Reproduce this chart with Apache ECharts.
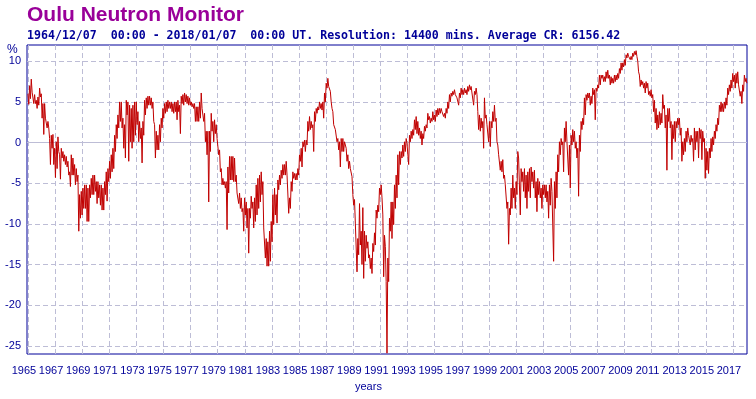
<!DOCTYPE html>
<html>
<head>
<meta charset="utf-8">
<title>Oulu Neutron Monitor</title>
<script src="https://cdn.jsdelivr.net/npm/echarts@6/dist/echarts.min.js"></script>
<style>
  html, body { margin: 0; padding: 0; background: #fff; }
  #chart { width: 756px; height: 399px; }
</style>
</head>
<body>
<div id="chart"></div>
<script>
// relative count rate (%), read off the plot as the highest and lowest
// value inside bins of about 45 days, starting at 1965.0
const startYear = 1965.0;
const stepYears = 0.1229;
const crHigh = [
  6.0, 7.0, 7.8, 6.3, 5.9, 5.2, 5.6, 6.7, 6.0, 4.8,
  4.8, 3.0, 2.6, 0.5, 0.9, 1.0, -0.7, 0.1, 0.7, -1.5,
  -0.7, -1.1, -1.5, -1.7, -2.3, -3.6, -1.5, -1.9, -2.7, -3.2,
  -4.0, -6.4, -6.0, -5.6, -5.2, -5.2, -5.6, -5.2, -4.4, -4.0,
  -4.0, -4.8, -4.8, -5.2, -5.2, -5.6, -4.8, -3.6, -3.2, -2.3,
  -1.5, -0.7, 0.9, 2.2, 3.4, 5.0, 5.0, 3.0, 2.2, 5.2,
  5.0, 4.6, 4.2, 4.6, 5.0, 5.0, 3.8, 2.6, 1.8, 2.6,
  5.2, 5.5, 5.7, 5.7, 5.5, 5.0, 2.2, 1.4, 0.9, 2.2,
  3.0, 4.2, 4.8, 5.0, 5.2, 5.0, 5.0, 4.8, 5.0, 5.0,
  5.2, 4.6, 5.7, 5.9, 6.1, 5.9, 5.7, 5.5, 5.0, 4.8,
  4.8, 4.4, 4.4, 5.0, 6.1, 4.2, 3.6, 1.4, 1.4, 1.4,
  3.6, 2.6, 2.8, 2.2, 0.5, -0.9, -3.2, -4.4, -4.8, -4.8,
  -3.0, -1.7, -1.7, -1.7, -1.9, -4.0, -6.2, -6.2, -6.8, -8.1,
  -6.8, -7.3, -8.1, -8.1, -6.6, -7.3, -6.8, -5.2, -4.4, -4.0,
  -3.6, -4.8, -10.5, -11.8, -12.2, -10.9, -9.7, -6.4, -5.6, -6.4,
  -4.6, -4.0, -3.4, -2.7, -2.7, -2.3, -4.0, -6.8, -4.8, -3.6,
  -3.8, -3.8, -3.2, -1.5, -0.7, 0.1, 0.3, 0.3, 2.6, 3.2,
  2.6, 2.2, 3.8, 4.2, 4.4, 5.0, 4.8, 5.0, 6.1, 7.3,
  7.9, 7.1, 5.0, 3.8, 2.4, 1.6, 0.5, 0.1, 0.5, 0.5,
  0.1, -0.7, -1.5, -2.3, -3.2, -6.4, -7.0, -9.9, -11.8, -7.5,
  -10.9, -8.0, -10.9, -11.4, -12.2, -13.8, -14.2, -12.4, -11.1, -8.3,
  -7.7, -5.6, -5.2, -8.9, -11.4, -17.1, -14.2, -9.3, -7.3, -7.3,
  -5.2, -4.0, -1.5, -1.1, -1.1, -0.3, 0.1, 0.5, -0.3, 0.9,
  1.4, 1.6, 2.8, 3.2, 2.6, 1.8, 1.4, 1.1, 2.0, 2.2,
  3.6, 3.2, 3.0, 3.8, 3.4, 4.0, 4.2, 4.2, 4.2, 3.8,
  3.6, 4.2, 5.0, 5.9, 6.1, 6.3, 6.5, 6.1, 5.5, 6.1,
  6.7, 6.5, 6.7, 6.5, 6.9, 7.1, 6.9, 5.9, 6.3, 6.7,
  3.8, 3.4, 3.0, 2.6, 5.5, 3.4, 2.2, 2.6, 2.6, 3.8,
  4.6, 3.0, -0.3, -1.7, -2.3, -2.1, -4.0, -5.2, -7.3, -8.1,
  -5.6, -4.0, -5.6, -4.8, -1.1, -1.9, -3.2, -3.6, -3.2, -4.0,
  -3.6, -3.2, -3.0, -3.6, -3.4, -4.8, -4.4, -4.8, -5.6, -5.2,
  -5.2, -5.2, -6.0, -5.2, -4.4, -6.0, -4.8, -3.6, -1.5, 0.1,
  0.5, 0.1, 1.8, 2.6, 0.1, -0.3, 0.9, 1.6, 1.4, 0.1,
  -0.7, 0.9, 2.6, 3.0, 5.5, 5.9, 6.1, 6.1, 5.7, 6.7,
  6.5, 6.7, 7.1, 8.3, 8.3, 8.3, 8.1, 8.7, 8.9, 8.3,
  8.1, 7.9, 8.3, 8.3, 8.5, 9.1, 9.8, 9.8, 10.2, 10.8,
  11.0, 10.8, 10.6, 11.0, 11.2, 11.3, 10.0, 8.3, 7.7, 7.5,
  7.3, 7.5, 7.3, 6.3, 6.5, 5.9, 5.2, 4.2, 3.4, 3.8,
  3.6, 5.9, 4.6, 3.4, 4.2, 4.2, 2.6, 2.2, 2.6, 2.6,
  3.0, 3.0, 1.8, 0.1, 0.5, 1.4, 1.8, 0.9, 0.9, 0.5,
  1.8, 1.4, 1.4, 1.8, 1.6, 1.4, 0.5, -0.7, -1.1, -0.7,
  0.5, 0.7, 1.4, 2.2, 3.0, 4.6, 5.0, 4.8, 5.0, 5.5,
  6.7, 7.1, 7.7, 8.5, 8.3, 8.5, 8.7, 7.1, 6.3, 7.1, 8.3, 7.9
];
const crLow = [
  4.7, 5.4, 6.2, 4.8, 4.8, 4.2, 4.6, 5.6, 3.0, 1.0,
  3.0, 1.8, 1.8, -2.7, -0.7, -2.7, -4.3, -3.2, -1.1, -4.5,
  -1.9, -2.3, -2.7, -3.0, -4.0, -5.4, -4.0, -4.0, -5.2, -4.8,
  -10.9, -9.3, -8.9, -8.1, -8.1, -9.7, -9.7, -6.8, -6.4, -6.4,
  -6.0, -7.5, -6.8, -7.7, -8.3, -8.3, -6.4, -7.2, -4.8, -4.4,
  -3.6, -3.2, -1.1, 0.5, 1.8, 2.6, 1.8, -0.7, -1.9, 3.4,
  -2.3, 0.1, -0.7, 0.1, 0.9, 2.2, 0.1, 0.5, -2.5, 0.9,
  3.4, 4.2, 4.6, 4.6, 4.2, 2.6, -1.9, -0.9, -0.9, 0.1,
  1.8, 3.0, 3.6, 3.8, 4.2, 4.2, 3.8, 3.6, 3.8, 2.8,
  3.8, 1.1, 4.8, 4.6, 5.0, 4.8, 4.6, 4.6, 4.4, 4.2,
  2.6, 2.6, 2.6, 3.0, 4.2, 2.6, 0.1, -1.5, -7.3, -1.1,
  1.4, 0.1, 1.1, 0.5, -1.5, -3.6, -5.2, -5.2, -5.6, -10.7,
  -6.2, -4.6, -4.6, -4.8, -4.8, -6.2, -7.5, -8.1, -8.5, -10.9,
  -8.9, -10.5, -13.6, -9.3, -8.1, -10.5, -9.7, -8.9, -8.1, -7.3,
  -6.4, -10.5, -14.2, -15.2, -15.2, -14.6, -12.2, -10.1, -8.9, -9.9,
  -5.8, -5.2, -4.4, -4.0, -4.0, -4.0, -8.7, -8.1, -6.0, -4.4,
  -4.6, -4.6, -4.0, -2.3, -3.0, -0.5, -1.1, -0.3, 1.4, 1.6,
  1.8, -1.1, 2.6, 3.6, 4.0, 4.2, 4.0, 3.0, 5.0, 6.7,
  6.9, 6.3, 4.2, 2.2, 1.6, 0.1, -0.9, -3.0, -1.1, -1.1,
  -0.3, -2.3, -3.2, -3.2, -4.2, -7.7, -9.9, -15.9, -13.8, -12.6,
  -15.0, -16.7, -14.6, -13.0, -14.2, -15.5, -16.1, -13.4, -12.6, -9.3,
  -8.5, -6.4, -6.8, -16.5, -12.8, -25.9, -17.1, -10.9, -11.8, -10.1,
  -8.1, -6.8, -5.2, -2.7, -1.9, -1.7, -1.1, -0.1, -2.7, 0.1,
  0.5, 0.9, 1.6, 1.1, 0.9, 0.5, -0.3, 0.5, 1.4, 1.8,
  2.8, 2.4, 2.6, 2.8, 2.6, 3.2, 3.4, 3.6, 3.8, 3.2,
  3.0, 3.6, 4.2, 5.0, 5.7, 5.9, 5.9, 5.5, 4.6, 5.5,
  5.9, 5.9, 6.1, 5.9, 6.3, 6.5, 6.1, 4.6, 5.9, 5.9,
  1.6, 1.4, 1.8, -0.7, 3.0, 2.2, 0.1, -0.5, 1.8, 2.6,
  2.6, 0.1, -1.5, -3.4, -3.6, -4.4, -5.2, -8.1, -12.5, -8.9,
  -8.1, -6.8, -8.1, -6.4, -1.9, -8.9, -4.8, -6.0, -6.8, -8.1,
  -6.0, -6.8, -4.8, -5.6, -6.8, -8.5, -6.4, -6.8, -8.1, -6.4,
  -6.8, -7.3, -9.3, -7.7, -6.0, -14.6, -8.1, -6.8, -3.6, -1.5,
  -0.3, -3.6, 0.1, 0.1, -4.0, -5.6, -0.3, 0.1, -0.7, -1.9,
  -6.6, -1.1, 1.6, 2.2, 3.4, 5.2, 5.5, 4.6, 4.8, 5.9,
  2.8, 6.3, 6.7, 7.1, 7.9, 7.5, 7.5, 7.9, 7.9, 7.1,
  7.3, 7.3, 7.5, 7.7, 7.9, 8.5, 8.9, 9.3, 9.5, 10.4,
  10.6, 10.2, 10.2, 10.6, 10.8, 10.6, 8.7, 6.9, 7.1, 6.7,
  6.1, 6.7, 5.9, 5.7, 5.5, 3.8, 2.4, 1.6, 1.8, 2.2,
  2.4, 4.2, 1.8, -3.4, 2.6, 1.8, -2.1, 0.5, 0.1, 1.8,
  2.2, 0.9, -2.3, -1.5, -1.1, 0.1, 0.9, -0.3, 0.1, -2.3,
  -0.9, 0.1, -1.9, 0.5, -2.1, 0.1, -4.4, -3.4, -3.8, -1.9,
  -1.1, -0.3, 0.5, 1.4, 2.2, 3.8, 3.8, 3.8, 4.2, 4.6,
  5.9, 6.3, 6.7, 7.5, 6.7, 7.3, 7.1, 5.7, 4.8, 6.3, 7.5, 7.3
];
const yearTicks = [1965, 1967, 1969, 1971, 1973, 1975, 1977, 1979, 1981, 1983,
  1985, 1987, 1989, 1991, 1993, 1995, 1997, 1999, 2001, 2003, 2005, 2007,
  2009, 2011, 2013, 2015, 2017];
const percentTicks = [-25, -20, -15, -10, -5, 0, 5, 10];

// each bin drawn as its high then its low, like the dense original trace
const points = [];
crHigh.forEach((hi, i) => {
  const t = startYear + i * stepYears;
  points.push([t, hi]);
  points.push([t + stepYears / 2, crLow[i]]);
});

const blue = '#000099';
const gridColor = '#bdbdd6';

const chart = echarts.init(document.getElementById('chart'));
chart.setOption({
  animation: false,
  title: [{
    text: 'Oulu Neutron Monitor',
    left: 27, top: 5, padding: 0,
    textStyle: { color: '#990099', fontSize: 21, fontWeight: 'bold', fontFamily: 'Liberation Sans' }
  }, {
    text: '1964/12/07  00:00 - 2018/01/07  00:00 UT. Resolution: 14400 mins. Average CR: 6156.42',
    left: 27, top: 30, padding: 0,
    textStyle: { color: blue, fontSize: 11.6, fontWeight: 'bold', fontFamily: 'DejaVu Sans Mono' }
  }],
  graphic: [
    { type: 'text', left: 7, top: 44, style: { text: '%', fill: blue, font: '12px "Liberation Sans"' } },
    { type: 'text', left: 355, top: 381, style: { text: 'years', fill: blue, font: '11px "Liberation Sans"' } }
  ],
  grid: { left: 27, right: 9, top: 45, bottom: 45, show: true, borderColor: blue, borderWidth: 1 },
  xAxis: {
    type: 'value', min: 1964.93, max: 2018.04,
    axisLine: { show: false },
    axisTick: { show: false, customValues: yearTicks },
    axisLabel: {
      customValues: yearTicks, color: blue, fontSize: 11, fontFamily: 'Liberation Sans',
      margin: 11, padding: [0, 8, 0, 0], formatter: v => String(v)
    },
    splitLine: { show: true, lineStyle: { color: gridColor, type: [5, 3], width: 1 } }
  },
  yAxis: {
    type: 'value', min: -26, max: 12,
    axisLine: { show: false },
    axisTick: { show: false, customValues: percentTicks },
    axisLabel: { customValues: percentTicks, color: blue, fontSize: 11, fontFamily: 'Liberation Sans', margin: 6 },
    splitLine: { show: true, lineStyle: { color: gridColor, type: [5, 3], width: 1 } }
  },
  series: [{
    type: 'line',
    data: points,
    symbol: 'none',
    sampling: false,
    z: 3,
    lineStyle: { color: '#c00000', width: 1 },
    markLine: {
      silent: true, symbol: 'none', z: 1, animation: false,
      label: { show: false },
      lineStyle: { color: gridColor, type: 'solid', width: 1 },
      data: [{ yAxis: 0 }]
    }
  }]
});
</script>
</body>
</html>
